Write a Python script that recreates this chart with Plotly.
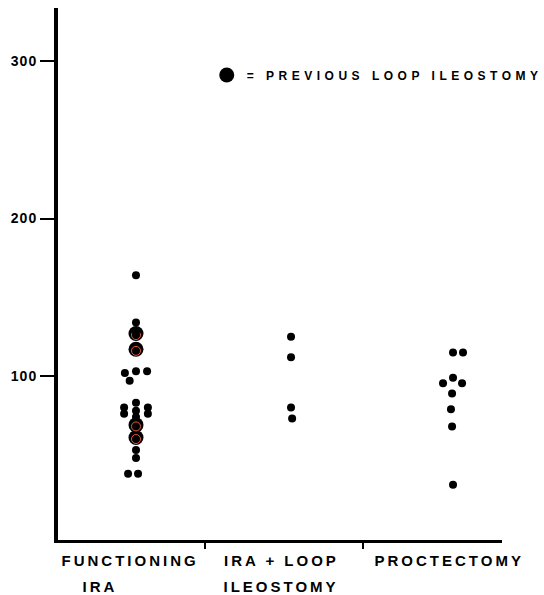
import plotly.graph_objects as go

# ---- data ----
group_labels = ["FUNCTIONING<br>IRA", "IRA + LOOP<br>ILEOSTOMY", "PROCTECTOMY"]

func_vals = [164, 134, 128, 103, 102, 103, 97, 83, 80, 80, 78, 76, 76, 74, 53, 48, 38, 38]
func_offsets = [0, 0, 0, 0, -0.07, 0.07, -0.04, 0, -0.075, 0.075, 0, -0.075, 0.075, 0, 0, 0, -0.05, 0.013]

func_loop_vals = [127, 117, 69, 61]
func_loop_offsets = [0, 0, 0, 0]

ira_loop_vals = [125, 112, 80, 73]
ira_loop_offsets = [-0.022, -0.022, -0.022, -0.015]

proct_vals = [115, 115, 99, 95.5, 95.5, 89, 79, 68, 31]
proct_offsets = [0, 0.063, 0, -0.063, 0.057, -0.006, -0.013, -0.006, 0]

y_ticks = [100, 200, 300]
legend_text = "= PREVIOUS LOOP ILEOSTOMY"

# label line centre positions (in x units) and divider ticks
label_centres = [[-0.038, -0.227], [0.921, 0.915], [1.975]]
dividers = [0.435, 1.432]

fig = go.Figure()

def xs(g, offs):
    return [g + o for o in offs]

small = dict(color="black", size=8)

fig.add_trace(go.Scatter(x=xs(0, func_loop_offsets), y=func_loop_vals, mode="markers",
                         marker=dict(color="black", size=15), name=legend_text, showlegend=True))
fig.add_trace(go.Scatter(x=xs(0, func_loop_offsets), y=[v - 1 for v in func_loop_vals], mode="markers",
                         marker=dict(symbol="circle-open", size=9, line=dict(color="#9a9a9a", width=1)),
                         showlegend=False, hoverinfo="skip"))
fig.add_trace(go.Scatter(x=xs(0, func_offsets), y=func_vals, mode="markers", marker=small, showlegend=False))
fig.add_trace(go.Scatter(x=xs(1, ira_loop_offsets), y=ira_loop_vals, mode="markers", marker=small, showlegend=False))
fig.add_trace(go.Scatter(x=xs(2, proct_offsets), y=proct_vals, mode="markers", marker=small, showlegend=False))

lab_font = dict(family="Liberation Sans", size=15, color="black", weight="bold")
line_shifts = [-20, -46]
for label, centres in zip(group_labels, label_centres):
    for k, (t, cx) in enumerate(zip(label.split("<br>"), centres)):
        fig.add_annotation(x=cx, y=0, xref="x", yref="paper", yshift=line_shifts[k], text=t,
                           showarrow=False, xanchor="center", yanchor="middle", font=lab_font)

fig.update_layout(
    width=544, height=595,
    margin=dict(l=58, r=42, t=8, b=55),
    paper_bgcolor="white", plot_bgcolor="white",
    legend=dict(x=0.335, y=0.874, xanchor="left", yanchor="middle", bgcolor="rgba(0,0,0,0)",
                font=dict(family="Liberation Sans", size=12, color="black", weight="bold"),
                itemsizing="trace"),
    xaxis=dict(range=[-0.492, 2.309], showgrid=False, zeroline=False, showline=True,
               linecolor="black", linewidth=3, tickvals=dividers, ticktext=["", ""],
               ticks="outside", ticklen=6, tickwidth=2, tickcolor="black"),
    yaxis=dict(range=[-4.1, 333.7], showgrid=False, zeroline=False, showline=True,
               linecolor="black", linewidth=4, tickvals=y_ticks, ticks="outside",
               ticklen=14, tickwidth=2, tickcolor="black",
               tickfont=dict(family="Liberation Sans", size=14, color="black", weight="bold")),
)

post = """
document.body.style.margin = '0';
document.body.style.overflow = 'hidden';
var gd = document.getElementById('{plot_id}');
gd.querySelectorAll('.legend .scrollbox').forEach(function(el){el.removeAttribute('clip-path');});
gd.querySelectorAll('.legend').forEach(function(el){el.removeAttribute('clip-path');});
gd.querySelectorAll('.annotation-text').forEach(function(t){t.style.letterSpacing='3px';});
gd.querySelectorAll('.legendtext').forEach(function(t){t.style.letterSpacing='4.5px';});
gd.querySelectorAll('.ytick text').forEach(function(t){t.style.letterSpacing='1px';});
"""
fig.write_html("out.html", post_script=post, config={"displayModeBar": False})
